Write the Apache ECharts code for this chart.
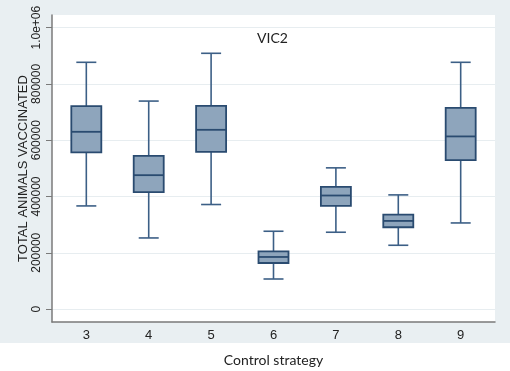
<!DOCTYPE html>
<html>
<head>
<meta charset="utf-8">
<script src="https://cdn.jsdelivr.net/npm/echarts@6/dist/echarts.min.js"></script>
<style>
    html, body { margin: 0; padding: 0; background: #fff; }
    #chart {
        width: 510px;
        height: 371px;
        background: linear-gradient(to bottom, #e9eff2 0, #e9eff2 343px, #fff 343px);
    }
</style>
</head>
<body>
<div id="chart"></div>
<script>
// 控制策略 3..9
var strategies = [3, 4, 5, 6, 7, 8, 9];
var whiskerLow = [366500, 252700, 371500, 106800, 273000, 226700, 306000];
var q1Values = [556600, 415300, 558700, 163700, 366500, 290700, 529200];
var medians = [629900, 475800, 637000, 185100, 403500, 313200, 613500];
var q3Values = [721300, 544500, 722400, 205300, 434200, 335900, 715300];
var whiskerHigh = [876900, 739100, 908900, 276500, 501800, 405700, 876900];
var yTicks = [0, 200000, 400000, 600000, 800000, 1000000];

var boxData = [];
for (var i = 0; i < strategies.length; i++) {
    boxData.push([strategies[i], whiskerLow[i], q1Values[i], medians[i], q3Values[i], whiskerHigh[i]]);
}

function renderBox(params, api) {
    var x = api.value(0);
    var lo = api.coord([x, api.value(1)]);
    var q1 = api.coord([x, api.value(2)]);
    var md = api.coord([x, api.value(3)]);
    var q3 = api.coord([x, api.value(4)]);
    var hi = api.coord([x, api.value(5)]);
    var cx = lo[0];
    var bw = 15; // 箱体半宽
    var cw = 10; // 须线端半宽
    var whisker = { stroke: '#3c5f86', lineWidth: 1.6 };
    return {
        type: 'group',
        children: [
            { type: 'line', shape: { x1: cx, y1: lo[1], x2: cx, y2: q1[1] }, style: whisker },
            { type: 'line', shape: { x1: cx, y1: q3[1], x2: cx, y2: hi[1] }, style: whisker },
            { type: 'line', shape: { x1: cx - cw, y1: lo[1], x2: cx + cw, y2: lo[1] }, style: whisker },
            { type: 'line', shape: { x1: cx - cw, y1: hi[1], x2: cx + cw, y2: hi[1] }, style: whisker },
            {
                type: 'rect',
                shape: { x: cx - bw, y: q3[1], width: bw * 2, height: q1[1] - q3[1] },
                style: { fill: '#8ea5bc', stroke: '#2a4b70', lineWidth: 1.8 }
            },
            { type: 'line', shape: { x1: cx - bw, y1: md[1], x2: cx + bw, y2: md[1] }, style: { stroke: '#2a4b70', lineWidth: 1.8 } }
        ]
    };
}

var myChart = echarts.init(document.getElementById('chart'));
var option = {
    backgroundColor: 'transparent',
    animation: false,
    grid: {
        left: 52,
        right: 15,
        top: 15,
        bottom: 49,
        outerBoundsMode: 'none',
        show: true,
        backgroundColor: '#fff',
        borderWidth: 0
    },
    title: {
        text: 'VIC2',
        left: 257,
        top: 31,
        padding: 0,
        textStyle: { fontFamily: 'Lato', fontWeight: 'normal', fontSize: 14, color: '#222' }
    },
    xAxis: {
        type: 'value',
        min: 2.45,
        max: 9.55,
        name: 'Control strategy',
        nameLocation: 'middle',
        nameGap: 31,
        nameMoveOverlap: false,
        nameTextStyle: { fontFamily: 'Lato', fontSize: 14, color: '#222' },
        splitLine: { show: false },
        axisLine: { show: true, onZero: false, lineStyle: { color: '#7a7a7a', width: 1.5 } },
        axisTick: { show: false },
        axisLabel: {
            customValues: strategies,
            margin: 7,
            fontFamily: 'Liberation Sans',
            fontSize: 13,
            color: '#222'
        }
    },
    yAxis: {
        type: 'value',
        min: -46000,
        max: 1045000,
        name: 'TOTAL ANIMALS VACCINATED',
        nameLocation: 'middle',
        nameGap: 22,
        nameMoveOverlap: false,
        nameTextStyle: { fontFamily: 'Liberation Sans', fontSize: 13, color: '#222' },
        axisLine: { show: true, lineStyle: { color: '#7a7a7a', width: 1.5 } },
        axisTick: { show: true, customValues: yTicks, length: 6, lineStyle: { color: '#7a7a7a' } },
        splitLine: { show: true, lineStyle: { color: '#e7edf0', width: 1 } },
        axisLabel: {
            customValues: yTicks,
            rotate: 90,
            margin: 9,
            fontFamily: 'Liberation Sans',
            fontSize: 12,
            color: '#222',
            formatter: function (v) {
                return v === 1000000 ? '1.0e+06' : String(v);
            }
        }
    },
    series: [
        {
            type: 'custom',
            renderItem: renderBox,
            data: boxData,
            encode: { x: 0, y: [1, 2, 3, 4, 5] }
        }
    ]
};
myChart.setOption(option);
</script>
</body>
</html>
